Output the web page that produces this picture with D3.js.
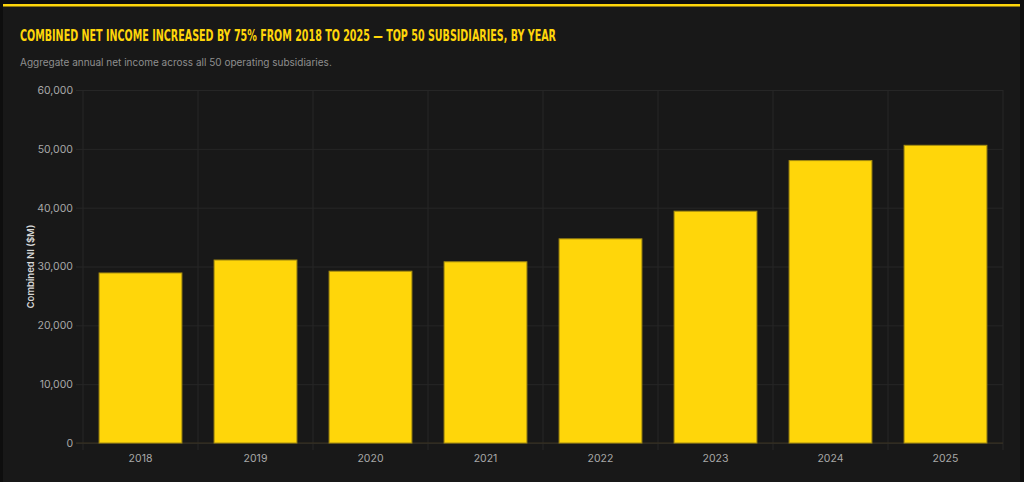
<!DOCTYPE html>
<html>
<head>
<meta charset="utf-8">
<script src="https://cdn.jsdelivr.net/npm/d3@7"></script>
<style>
  html, body { margin: 0; padding: 0; background: #0e0e0e; }
  svg { display: block; }
</style>
</head>
<body>
<div id="chart"></div>
<script>
// chart data
const years = ["2018", "2019", "2020", "2021", "2022", "2023", "2024", "2025"]
const netIncome = [28900, 31100, 29200, 30800, 34700, 39400, 48000, 50600]
const yTicks = [0, 10000, 20000, 30000, 40000, 50000, 60000]

const W = 1024, H = 482
const margin = {top: 90, right: 21, bottom: 39, left: 83}

const svg = d3.select("#chart").append("svg")
  .attr("width", W)
  .attr("height", H)

// card
svg.append("rect")
  .attr("x", 3).attr("y", 4)
  .attr("width", 1017).attr("height", H)
  .attr("fill", "#181818")
svg.append("rect")
  .attr("x", 3).attr("y", 4)
  .attr("width", 1017).attr("height", 2.5)
  .attr("fill", "#FFD60A")

svg.append("text")
  .attr("x", 20).attr("y", 41)
  .attr("fill", "#FFD60A")
  .attr("font-family", "'DejaVu Sans Condensed', 'Liberation Sans Narrow', sans-serif")
  .attr("font-weight", "bold")
  .attr("font-size", 16)
  .attr("textLength", 536)
  .attr("lengthAdjust", "spacingAndGlyphs")
  .text("COMBINED NET INCOME INCREASED BY 75% FROM 2018 TO 2025 — TOP 50 SUBSIDIARIES, BY YEAR")

svg.append("text")
  .attr("x", 20).attr("y", 66)
  .attr("fill", "#8f8f8f")
  .attr("font-family", "Inter, 'Noto Sans', sans-serif")
  .attr("font-size", 10)
  .text("Aggregate annual net income across all 50 operating subsidiaries.")

const x = d3.scaleBand()
  .domain(years)
  .range([margin.left, W - margin.right])
  .paddingInner(0.28)
  .paddingOuter(0.14)

const y = d3.scaleLinear()
  .domain([0, 60000])
  .range([H - margin.bottom, margin.top])

const plotH = H - margin.bottom - margin.top
const step = x.step()

// vertical grid at category boundaries
const gx = svg.append("g")
d3.range(years.length + 1).forEach(i => {
  const xx = margin.left + i * step
  gx.append("line")
    .attr("x1", xx).attr("x2", xx)
    .attr("y1", margin.top).attr("y2", H - margin.bottom + 7)
    .attr("stroke", "#262626")
    .attr("stroke-width", 1)
})

// horizontal grid + y axis
const yAxis = svg.append("g")
  .attr("transform", `translate(${margin.left},0)`)
  .call(d3.axisLeft(y)
    .tickValues(yTicks)
    .tickSize(-(W - margin.left - margin.right))
    .tickPadding(10)
    .tickFormat(d3.format(",")))
yAxis.select(".domain").remove()
yAxis.selectAll(".tick line")
  .attr("x1", -7)
  .attr("stroke", "#262626")
yAxis.selectAll(".tick text")
  .attr("fill", "#a8a8a8")
  .attr("font-family", "Inter, 'Noto Sans', sans-serif")
  .attr("font-size", 10.5)

// x axis labels
const xAxis = svg.append("g")
  .attr("transform", `translate(0,${H - margin.bottom})`)
  .call(d3.axisBottom(x).tickSize(0).tickPadding(12))
xAxis.select(".domain").remove()
xAxis.selectAll(".tick text")
  .attr("fill", "#a8a8a8")
  .attr("font-family", "Inter, 'Noto Sans', sans-serif")
  .attr("font-size", 10.5)

// baseline
svg.append("line")
  .attr("x1", margin.left - 7).attr("x2", W - margin.right)
  .attr("y1", y(0)).attr("y2", y(0))
  .attr("stroke", "#3a3320")
  .attr("stroke-width", 1)

// bars
svg.append("g")
  .selectAll("rect")
  .data(years.map((yr, i) => ({year: yr, value: netIncome[i]})))
  .join("rect")
  .attr("x", d => x(d.year))
  .attr("y", d => y(d.value))
  .attr("width", x.bandwidth())
  .attr("height", d => y(0) - y(d.value))
  .attr("fill", "#FFD60A")
  .attr("stroke", "#a58c10")
  .attr("stroke-width", 1)

// y axis title
svg.append("text")
  .attr("transform", `translate(34,${margin.top + plotH / 2}) rotate(-90)`)
  .attr("text-anchor", "middle")
  .attr("fill", "#d8d8d8")
  .attr("font-family", "Inter, 'Noto Sans', sans-serif")
  .attr("font-weight", 600)
  .attr("font-size", 9.5)
  .text("Combined NI ($M)")
</script>
</body>
</html>
